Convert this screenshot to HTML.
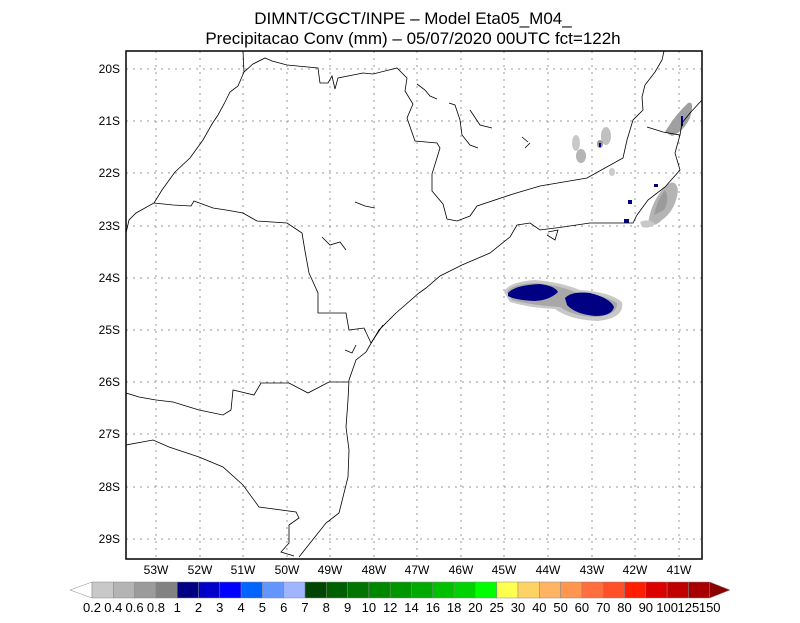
<!DOCTYPE html>
<html><head><meta charset="utf-8"><style>
body{margin:0;background:#fff;}
svg text{font-family:"Liberation Sans",sans-serif;}
</style></head><body>
<svg width="800" height="618" viewBox="0 0 800 618" xmlns="http://www.w3.org/2000/svg">
<rect width="800" height="618" fill="#fff"/>
<text x="413" y="24" font-size="17" text-anchor="middle">DIMNT/CGCT/INPE –  Model Eta05_M04_</text>
<text x="413" y="44" font-size="17" text-anchor="middle">Precipitacao Conv (mm) – 05/07/2020 00UTC fct=122h</text>
<g stroke="#999" stroke-width="1" stroke-dasharray="2,5">
<line x1="126" x2="702" y1="69" y2="69"/><line x1="126" x2="702" y1="121" y2="121"/><line x1="126" x2="702" y1="173" y2="173"/><line x1="126" x2="702" y1="226" y2="226"/><line x1="126" x2="702" y1="278" y2="278"/><line x1="126" x2="702" y1="330" y2="330"/><line x1="126" x2="702" y1="382" y2="382"/><line x1="126" x2="702" y1="434" y2="434"/><line x1="126" x2="702" y1="487" y2="487"/><line x1="126" x2="702" y1="539" y2="539"/>
<line y1="51" y2="559" x1="156" x2="156"/><line y1="51" y2="559" x1="200" x2="200"/><line y1="51" y2="559" x1="243" x2="243"/><line y1="51" y2="559" x1="287" x2="287"/><line y1="51" y2="559" x1="330" x2="330"/><line y1="51" y2="559" x1="374" x2="374"/><line y1="51" y2="559" x1="417" x2="417"/><line y1="51" y2="559" x1="461" x2="461"/><line y1="51" y2="559" x1="504" x2="504"/><line y1="51" y2="559" x1="548" x2="548"/><line y1="51" y2="559" x1="592" x2="592"/><line y1="51" y2="559" x1="635" x2="635"/><line y1="51" y2="559" x1="679" x2="679"/>
</g>
<!-- precipitation -->
<g>
<path d="M504 292 Q508 282 535 280 Q560 282 580 290 Q610 292 622 302 Q625 318 598 321 Q570 320 555 309 Q530 308 510 302 Z" fill="#c8c8c8"/>
<path d="M507 292 Q512 284 535 283 Q558 285 575 292 Q605 295 617 303 Q618 315 596 317 Q572 316 560 307 Q530 305 512 300 Z" fill="#a8a8a8"/>
<path d="M508 293 Q515 285 540 284 Q555 286 558 292 Q550 300 535 301 Q515 300 508 296 Z" fill="#000082"/>
<path d="M565 298 Q572 291 590 293 Q610 298 614 307 Q612 316 595 316 Q575 314 567 305 Z" fill="#000082"/>
<path d="M648 225 Q650 205 662 190 Q675 175 678 190 Q676 210 662 220 Q655 227 648 225 Z" fill="#b4b4b4"/>
<path d="M654 215 Q657 200 665 190 Q670 200 664 210 Z" fill="#9b9b9b"/>
<path d="M665 132 Q675 115 688 103 Q695 100 690 118 Q683 132 672 136 Z" fill="#a0a0a0"/>
<path d="M640 222 Q650 218 655 224 Q650 229 642 227 Z" fill="#c8c8c8"/>
<ellipse cx="576" cy="143" rx="4" ry="8" fill="#c8c8c8"/><ellipse cx="581" cy="156" rx="5" ry="7" fill="#b4b4b4"/>
<ellipse cx="606" cy="136" rx="5" ry="9" fill="#c0c0c0"/><ellipse cx="600" cy="144" rx="3" ry="4" fill="#999"/>
<ellipse cx="612" cy="172" rx="3" ry="4" fill="#ccc"/>
<rect x="624" y="219" width="5" height="4" fill="#000082"/><rect x="628" y="200" width="4" height="4" fill="#000082"/>
<rect x="681" y="116" width="2" height="10" fill="#000082"/><rect x="654" y="184" width="4" height="3" fill="#000082"/>
<rect x="599" y="143" width="2" height="4" fill="#000082"/>
</g>
<!-- map lines -->
<g fill="none" stroke="#000" stroke-width="0.8">
<path d="M243 51 L244 72 L253 64 L265 58 L272 61 L287 65 L318 68 L320 83 L328 83 L332 76 L335 89 L338 78 L363 73 L373 74 L397 68 L407 78 L405 91 L413 104 L407 118 L415 141 L437 143 L440 148 L432 174 L432 191 L443 204 L447 219 L457 221 L470 216 L477 206 L513 194 L540 186 L587 178 L623 158 L627 140 L633 120 L643 110 L642 97 L645 85 L655 72 L662 60 L664 51"/>
<path d="M647 127 L663 132 L680 135 L682 123 L690 113 L702 100"/>
<path d="M680 135 L675 153 L680 170 L665 187 L648 200 L637 215 L633 223 L590 223 L563 227 L540 230 L530 223 L517 225 L510 237 L490 253 L462 265 L440 276 L426 288 L419 293 L396 313 L379 330 L373 340 L366 352 L356 360 L349 380 L348 400 L346 427 L349 450 L348 477 L339 513 L326 523 L299 557"/>
<path d="M244 72 L238 86 L230 92 L224 104 L218 115 L212 124 L203 140 L190 158 L175 172 L162 190 L154 203 L136 213 L129 220 L126 233"/>
<path d="M154 203 L173 205 L191 206 L194 201 L213 208 L226 210 L243 213 L257 221 L287 223 L302 233 L305 251 L309 273 L318 293 L318 313 L346 313 L349 330 L364 328 L371 343"/>
<path d="M126 393 L139 397 L156 400 L173 402 L199 410 L223 415 L231 410 L233 390 L254 395 L261 383 L289 383 L308 393 L329 382 L349 382"/>
<path d="M126 445 L153 440 L169 447 L199 457 L223 467 L243 485 L259 507 L296 512 L299 518 L289 525 L289 543 L281 552 L294 556"/>
<path d="M417 84 L425 90 L430 96 L437 99"/>
<path d="M449 103 L455 105 L460 120 L462 135 L470 145 L478 148"/><path d="M470 110 L480 125 L492 128"/>
<path d="M355 202 L365 206 L375 208"/><path d="M322 237 L330 245 L340 242 L346 250"/>
<path d="M522 137 L528 142"/><path d="M525 148 L530 143"/>
<path d="M345 350 L352 353 L356 345"/><path d="M371 343 L383 325"/>
<path d="M547 235 L555 240 L558 230 L548 232"/>
</g>
<rect x="126" y="51" width="576" height="508" fill="none" stroke="#000" stroke-width="1.5"/>
<g font-size="12" text-anchor="end">
<text x="120" y="73">20S</text><text x="120" y="125">21S</text><text x="120" y="177">22S</text><text x="120" y="230">23S</text><text x="120" y="282">24S</text><text x="120" y="334">25S</text><text x="120" y="386">26S</text><text x="120" y="438">27S</text><text x="120" y="491">28S</text><text x="120" y="543">29S</text>
</g>
<g font-size="12" text-anchor="middle">
<text x="156" y="574">53W</text><text x="200" y="574">52W</text><text x="243" y="574">51W</text><text x="287" y="574">50W</text><text x="330" y="574">49W</text><text x="374" y="574">48W</text><text x="417" y="574">47W</text><text x="461" y="574">46W</text><text x="504" y="574">45W</text><text x="548" y="574">44W</text><text x="592" y="574">43W</text><text x="635" y="574">42W</text><text x="679" y="574">41W</text>
</g>
<g stroke="#888" stroke-width="0.5">
<polygon points="70,590 92,582 92,598" fill="#fff"/>
<rect x="92" y="582" width="21.3" height="16" fill="#c8c8c8"/>
<rect x="113.3" y="582" width="21.3" height="16" fill="#b4b4b4"/>
<rect x="134.6" y="582" width="21.3" height="16" fill="#9b9b9b"/>
<rect x="155.9" y="582" width="21.3" height="16" fill="#828282"/>
<rect x="177.2" y="582" width="21.3" height="16" fill="#000082"/>
<rect x="198.5" y="582" width="21.3" height="16" fill="#0000c8"/>
<rect x="219.8" y="582" width="21.3" height="16" fill="#0000ff"/>
<rect x="241.1" y="582" width="21.3" height="16" fill="#0064ff"/>
<rect x="262.4" y="582" width="21.3" height="16" fill="#6496ff"/>
<rect x="283.7" y="582" width="21.3" height="16" fill="#a0b4ff"/>
<rect x="305" y="582" width="21.3" height="16" fill="#004600"/>
<rect x="326.3" y="582" width="21.3" height="16" fill="#005f00"/>
<rect x="347.6" y="582" width="21.3" height="16" fill="#007300"/>
<rect x="368.9" y="582" width="21.3" height="16" fill="#008700"/>
<rect x="390.2" y="582" width="21.3" height="16" fill="#009600"/>
<rect x="411.5" y="582" width="21.3" height="16" fill="#00aa00"/>
<rect x="432.8" y="582" width="21.3" height="16" fill="#00c000"/>
<rect x="454.1" y="582" width="21.3" height="16" fill="#00d200"/>
<rect x="475.4" y="582" width="21.3" height="16" fill="#00ff00"/>
<rect x="496.7" y="582" width="21.3" height="16" fill="#ffff50"/>
<rect x="518" y="582" width="21.3" height="16" fill="#ffd264"/>
<rect x="539.3" y="582" width="21.3" height="16" fill="#ffb464"/>
<rect x="560.6" y="582" width="21.3" height="16" fill="#ff9650"/>
<rect x="581.9" y="582" width="21.3" height="16" fill="#ff6e3c"/>
<rect x="603.2" y="582" width="21.3" height="16" fill="#ff5028"/>
<rect x="624.5" y="582" width="21.3" height="16" fill="#ff1e00"/>
<rect x="645.8" y="582" width="21.3" height="16" fill="#dc0000"/>
<rect x="667.1" y="582" width="21.3" height="16" fill="#c00000"/>
<rect x="688.4" y="582" width="21.3" height="16" fill="#a80000"/>
<polygon points="709.7,582 730,590 709.7,598" fill="#8c0000"/>
</g>
<g font-size="13" text-anchor="middle">
<text x="92" y="612">0.2</text><text x="113.3" y="612">0.4</text><text x="134.6" y="612">0.6</text><text x="155.9" y="612">0.8</text><text x="177.2" y="612">1</text><text x="198.5" y="612">2</text><text x="219.8" y="612">3</text><text x="241.1" y="612">4</text><text x="262.4" y="612">5</text><text x="283.7" y="612">6</text><text x="305" y="612">7</text><text x="326.3" y="612">8</text><text x="347.6" y="612">9</text><text x="368.9" y="612">10</text><text x="390.2" y="612">12</text><text x="411.5" y="612">14</text><text x="432.8" y="612">16</text><text x="454.1" y="612">18</text><text x="475.4" y="612">20</text><text x="496.7" y="612">25</text><text x="518" y="612">30</text><text x="539.3" y="612">40</text><text x="560.6" y="612">50</text><text x="581.9" y="612">60</text><text x="603.2" y="612">70</text><text x="624.5" y="612">80</text><text x="645.8" y="612">90</text><text x="667.1" y="612">100</text><text x="688.4" y="612">125</text><text x="709.7" y="612">150</text>
</g>
</svg>
</body></html>
